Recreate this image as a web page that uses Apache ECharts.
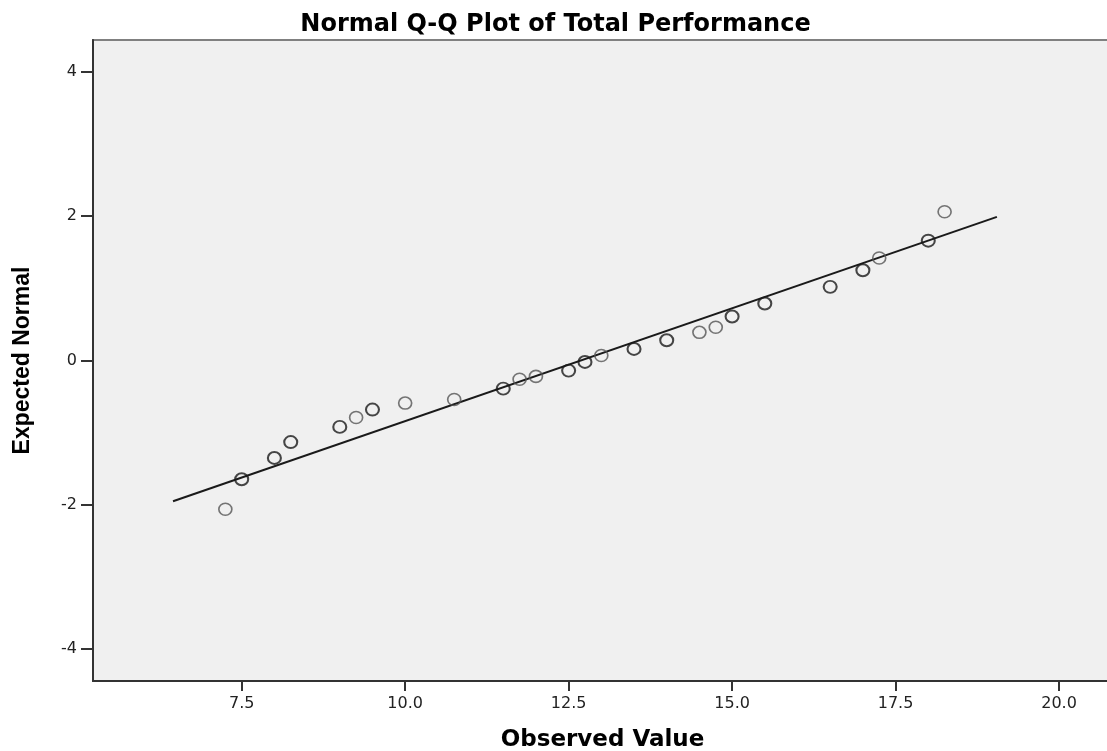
<!DOCTYPE html>
<html>
<head>
<meta charset="utf-8">
<script src="https://cdn.jsdelivr.net/npm/echarts@6/dist/echarts.min.js"></script>
<style>
html,body{margin:0;padding:0;background:#fff;}
#chart{width:1107px;height:751px;}
</style>
</head>
<body>
<div id="chart"></div>
<script>
// Observed values and expected normal scores (tied/duplicate observations drawn darker)
const dupObserved = [7.5, 8.0, 8.25, 9.0, 9.5, 11.5, 12.5, 12.75, 13.5, 14.0, 15.0, 15.5, 16.5, 17.0, 18.0];
const dupExpected = [-1.645, -1.35, -1.13, -0.92, -0.68, -0.39, -0.14, -0.02, 0.16, 0.28, 0.61, 0.79, 1.02, 1.25, 1.66];
const singleObserved = [7.25, 9.25, 10.0, 10.75, 11.75, 12.0, 13.0, 14.5, 14.75, 17.25, 18.25];
const singleExpected = [-2.06, -0.79, -0.59, -0.54, -0.26, -0.22, 0.07, 0.39, 0.46, 1.42, 2.06];
// Reference line endpoints
const lineX = [6.45, 19.05];
const lineY = [-1.95, 1.99];
// Tick labels
const xTicks = [7.5, 10.0, 12.5, 15.0, 17.5, 20.0];
const yTicks = [-4, -2, 0, 2, 4];

const zip = (a, b) => a.map((v, i) => [v, b[i]]);

const chart = echarts.init(document.getElementById('chart'), null, {renderer: 'canvas'});
chart.setOption({
  animation: false,
  backgroundColor: '#ffffff',
  title: {
    text: 'Normal Q-Q Plot of Total Performance',
    left: 550.5,
    textAlign: 'center',
    top: 8,
    textStyle: {fontFamily: 'DejaVu Sans', fontWeight: 'bold', fontSize: 24, color: '#000'}
  },
  grid: {
    left: 93, top: 40, right: -5, bottom: 70,
    outerBoundsMode: 'none',
    containLabel: false,
    show: true,
    backgroundColor: '#f0f0f0',
    borderColor: '#808080',
    borderWidth: 2
  },
  xAxis: {
    type: 'value',
    min: 5.226, max: 20.81,
    name: 'Observed Value',
    nameLocation: 'middle',
    nameGap: 48,
    nameTextStyle: {fontFamily: 'DejaVu Sans', fontWeight: 'bold', fontSize: 23, color: '#000'},
    axisLine: {show: true, onZero: false, lineStyle: {color: '#333', width: 2}},
    axisTick: {show: true, length: 10, customValues: xTicks, lineStyle: {color: '#333', width: 2}},
    axisLabel: {customValues: xTicks, margin: 15, formatter: v => v.toFixed(1),
      fontFamily: 'DejaVu Sans', fontSize: 16, color: '#222'},
    splitLine: {show: false}
  },
  yAxis: {
    type: 'value',
    min: -4.44, max: 4.44,
    name: 'Expected Normal',
    nameLocation: 'middle',
    nameGap: 59,
    nameTextStyle: {fontFamily: 'Liberation Sans', fontWeight: 'bold', fontSize: 23, color: '#000'},
    axisLine: {show: true, onZero: false, lineStyle: {color: '#333', width: 2}},
    axisTick: {show: true, length: 12, customValues: yTicks, lineStyle: {color: '#333', width: 2}},
    axisLabel: {customValues: yTicks, margin: 16, formatter: v => String(v),
      fontFamily: 'DejaVu Sans', fontSize: 16, color: '#222'},
    splitLine: {show: false}
  },
  series: [
    {
      type: 'line',
      data: zip(lineX, lineY),
      symbol: 'none',
      lineStyle: {color: '#1a1a1a', width: 2},
      z: 2
    },
    {
      type: 'scatter',
      data: zip(singleObserved, singleExpected),
      symbol: 'circle',
      symbolSize: [13, 12],
      itemStyle: {color: 'rgba(0,0,0,0)', borderColor: '#555', borderWidth: 1.6},
      z: 3
    },
    {
      type: 'scatter',
      data: zip(dupObserved, dupExpected),
      symbol: 'circle',
      symbolSize: [13, 12],
      itemStyle: {color: 'rgba(0,0,0,0)', borderColor: '#1a1a1a', borderWidth: 2},
      z: 3
    }
  ]
});
</script>
</body>
</html>
